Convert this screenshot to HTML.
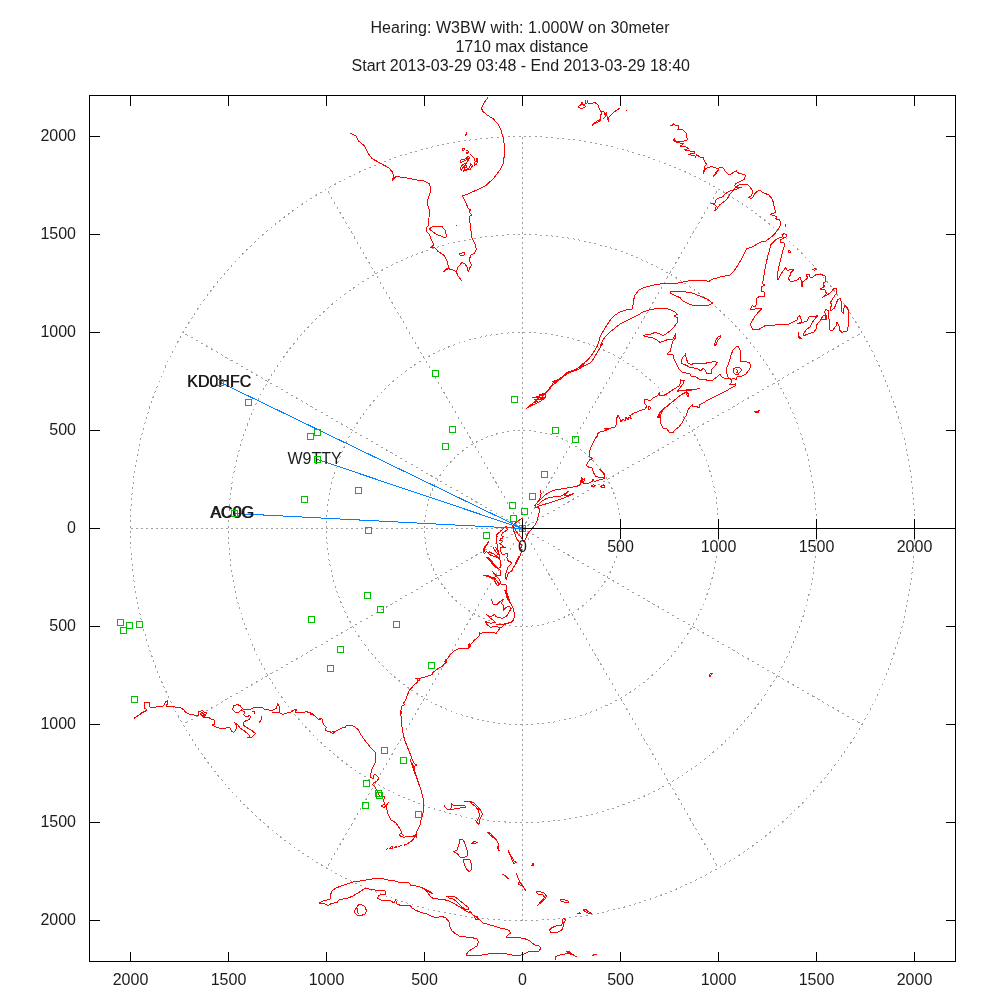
<!DOCTYPE html>
<html><head><meta charset="utf-8"><title>plot</title>
<style>
html,body{margin:0;padding:0;background:#fff;}
svg{display:block;will-change:transform;}
text{font-family:"Liberation Sans",sans-serif;font-size:16px;fill:#1c1c1c;}
.g{stroke:#a0a0a0;stroke-width:1;fill:none;stroke-dasharray:2 3;shape-rendering:crispEdges;}
.k{stroke:#000;stroke-width:1;fill:none;shape-rendering:crispEdges;}
.c{stroke:#ff0000;stroke-width:1;fill:none;stroke-linejoin:round;shape-rendering:crispEdges;}
.b{stroke:#0080ff;stroke-width:1;fill:none;shape-rendering:crispEdges;}
.p{stroke:#00c000;stroke-width:1;fill:none;shape-rendering:crispEdges;}
</style></head><body>
<svg width="1000" height="1000" viewBox="0 0 1000 1000">
<rect width="1000" height="1000" fill="#fff"/>

<text x="370.5" y="33" textLength="299" lengthAdjust="spacing">Hearing: W3BW with: 1.000W on 30meter</text>
<text x="455.5" y="52" textLength="133" lengthAdjust="spacing">1710 max distance</text>
<text x="351.5" y="71" textLength="338.5" lengthAdjust="spacing">Start 2013-03-29 03:48 - End 2013-03-29 18:40</text>
<circle class="g" style="stroke-dasharray:2 3.5" cx="522.5" cy="528.5" r="98"/>
<circle class="g" style="stroke-dasharray:2 3.5" cx="522.5" cy="528.5" r="196"/>
<circle class="g" style="stroke-dasharray:2 3.5" cx="522.5" cy="528.5" r="294"/>
<circle class="g" style="stroke-dasharray:2 3.5" cx="522.5" cy="528.5" r="392"/>
<path class="g" style="stroke-dasharray:2.31 3.46" d="M522.5 528.5L862.0 332.5"/>
<path class="g" style="stroke-dasharray:2.31 3.46" d="M522.5 528.5L718.5 189.0"/>
<path class="g" style="stroke-dasharray:2.00 3.00" d="M522.5 528.5L522.5 136.5"/>
<path class="g" style="stroke-dasharray:2.31 3.46" d="M522.5 528.5L326.5 189.0"/>
<path class="g" style="stroke-dasharray:2.31 3.46" d="M522.5 528.5L183.0 332.5"/>
<path class="g" style="stroke-dasharray:2.00 3.00" d="M522.5 528.5L130.5 528.5"/>
<path class="g" style="stroke-dasharray:2.31 3.46" d="M522.5 528.5L183.0 724.5"/>
<path class="g" style="stroke-dasharray:2.31 3.46" d="M522.5 528.5L326.5 868.0"/>
<path class="g" style="stroke-dasharray:2.00 3.00" d="M522.5 528.5L522.5 920.5"/>
<path class="g" style="stroke-dasharray:2.31 3.46" d="M522.5 528.5L718.5 868.0"/>
<path class="g" style="stroke-dasharray:2.31 3.46" d="M522.5 528.5L862.0 724.5"/>
<path class="c" d="M350.0 133.0L356.0 136.0L359.0 141.4L364.0 145.4L368.0 153.0L372.0 158.6L380.0 163.0L389.0 168.0L392.4 172.0L393.6 176.6L392.4 180.6L395.6 176.6L404.0 177.4L410.0 178.6L417.0 180.0L423.0 180.6L429.0 183.4L430.6 187.0L430.0 193.0L428.0 199.0L427.6 204.6L429.2 210.0L429.0 218.0L428.0 226.0L426.4 228.0L426.4 231.0L429.0 234.0L431.6 240.0L434.0 244.6L431.0 247.4L434.4 247.0L438.0 251.4L444.0 255.4L447.0 260.6L448.6 267.4L443.0 272.0L448.0 268.6L453.0 270.0L456.4 272.0L458.0 276.0L462.4 281.4M456.4 272.0L458.0 267.0L462.0 262.6L465.0 264.0L467.0 267.0L468.4 272.0L469.6 268.0L471.6 265.0L469.0 260.0L471.0 255.0L474.4 253.0L476.4 249.0L475.0 244.0L472.0 238.0L471.0 231.0L470.0 223.0L469.0 216.6L471.6 215.0L469.0 212.0L470.4 210.0L468.0 208.0L466.0 203.0L462.4 196.0L468.0 194.0L478.0 189.4L486.0 185.4L494.0 178.0L500.0 170.0L503.0 164.0L504.4 155.0L504.4 145.0L503.0 137.0L501.0 130.0L498.0 124.0L493.0 118.6L487.0 115.0L482.4 111.0L481.6 108.0L484.0 103.0L488.0 97.4M429.0 229.0L433.0 226.4L442.0 226.4L445.6 231.0L446.4 237.0L444.0 237.4L436.0 234.0ZM459.6 254.0L463.0 252.6L465.0 253.0L463.6 255.4L460.0 255.0ZM456 225.5h1M465.9 132.5L466.7 132.9L466.4 134.4L464.9 135.6M462.3 149.4L463.4 148.2L464.6 148.7L464.3 150.0L463.1 150.7ZM466.4 150.6L467.9 150.6L468.8 151.8L467.9 153.3L466.4 153.0L467.3 152.1M470.3 154.2L472.7 156.6L474.8 159.0L475.1 161.4L474.2 164.4L474.8 165.3L476.6 164.1L477.7 162.0L477.7 159.0L476.6 158.4L476.3 159.9L476.0 162.3M460.4 161.4L460.7 160.2L463.4 159.3L465.5 159.0L466.4 157.8L468.8 156.0L469.4 158.4L468.2 160.8L466.7 162.6L467.6 160.2L468.2 158.4L467.0 158.4L465.8 160.2L463.4 161.4L461.0 162.6ZM460.1 168.9L461.0 166.8L462.5 165.0L464.6 163.8L466.7 163.5L465.2 165.0L463.4 166.8L461.9 168.9L461.3 170.4ZM464.0 167.4L465.5 165.6L466.7 165.9L466.1 167.4L464.6 168.3ZM463.1 171.6L464.6 169.8L467.0 169.5L468.8 168.0L470.0 166.2L470.9 163.8L471.8 164.4L472.7 165.9L471.2 167.4L470.6 169.8L469.4 169.2L468.2 169.8L465.8 170.4L464.0 171.0ZM578.0 106.8L579.4 105.4L581.2 104.8L581.5 102.9L582.6 102.6L582.9 104.3L584.0 105.7L585.0 104.0L585.5 100.5L585.7 104.0L586.8 103.6L587.5 100.5L587.8 102.9L589.9 103.3L592.4 103.3L594.1 102.5L596.2 103.3L598.0 104.7L598.7 107.1L599.7 109.6L600.8 111.7L602.2 111.0L603.9 111.7L604.6 113.4L605.3 115.2L606.4 112.4L606.7 114.8L607.4 117.6L608.4 121.5L608.6 117.6L610.6 115.5L613.4 112.7L616.2 110.6L619.7 108.3M600.8 111.7L601.4 113.8L600.4 115.9L600.4 118.0L600.7 120.1L598.7 121.5L596.6 122.9L594.5 123.9L592.4 125.3L593.1 123.6L595.2 122.3L597.6 120.8L599.7 119.4M603.2 118.3L604.6 117.6L605.7 115.9L606.4 113.8M578.0 106.8L580.5 108.5L582.6 108.3L585.0 107.1L585.5 105.7M626 110.5h1M670.2 125.6L672.6 125.2L673.8 123.6L675.0 125.2L678.0 125.2L679.2 127.0L678.0 129.4L680.4 130.0L682.2 129.4L684.6 131.2L686.4 133.6L686.6 137.2L687.6 139.6L685.8 140.8L682.2 141.2L678.0 141.4L675.0 140.8L673.8 139.6L675.0 138.4L673.4 140.0L675.0 141.6L678.0 142.6L681.0 143.2L683.4 143.8L680.4 146.2L684.0 146.4L687.0 147.2L688.2 148.6L684.6 150.0L688.8 150.4L691.8 151.6L694.2 151.6L694.6 153.4L691.4 153.2L688.8 154.4L692.4 155.6L694.8 155.8L695.4 157.2L696.6 154.6L698.4 155.8L700.2 157.2L703.2 157.6L704.2 160.6L705.4 163.0L706.6 164.2L705.0 166.0L704.2 169.6L703.4 173.2L704.6 170.8L705.6 168.4L708.6 167.6L711.6 166.6L714.0 167.2L715.8 167.8L717.4 168.4L718.2 169.6L716.4 171.4L715.0 173.8L713.4 176.2L715.4 174.4L717.0 172.0L718.6 170.0L719.0 167.8L722.4 167.2L724.2 169.6L726.0 172.0L728.2 174.0L731.4 174.0L733.8 172.0L736.6 170.8L737.4 172.6L740.4 173.8L744.0 174.4L745.4 175.6L744.6 179.2L741.6 180.8L738.6 182.2L735.6 184.0L734.6 185.8L736.2 187.0L739.2 187.6L741.6 187.2L738.0 188.4L734.4 190.0L730.8 190.6L728.4 191.8L725.4 193.6L723.0 196.6L719.4 197.8L717.0 199.0L715.4 200.8L715.0 203.2L711.6 203.8L714.6 204.4L716.2 206.2L714.6 211.0L716.4 209.8L718.2 206.8L720.0 204.4L723.0 202.6L725.8 200.2L727.8 197.8L729.6 194.8L732.0 191.8L734.4 188.8L736.8 186.4L739.8 184.6L744.0 184.0L747.6 184.4L749.4 186.4L751.2 188.8L752.6 190.6L752.2 193.6L750.6 196.6L748.6 197.2L751.2 199.0L753.0 197.2L754.8 193.6L757.2 191.2L760.2 190.4M635.0 295.0L639.0 290.0L644.0 287.4L652.0 285.4L660.0 284.0L669.0 283.0L672.0 284.0L680.0 282.6L688.0 281.0L698.0 280.0L706.0 280.0L708.0 282.0L712.0 279.4L720.0 277.0L730.0 275.0L734.0 271.0L738.0 265.0L742.0 258.0L745.0 252.0L747.0 248.6L753.0 246.6L757.0 244.0L760.0 242.6M760.0 190.6L764.0 193.0L769.0 195.0L772.0 199.0L773.6 203.0L774.4 208.0L775.6 212.4L770.0 214.4L774.0 215.6L777.0 217.0L775.6 219.0L779.6 220.0L781.0 223.0L779.6 227.0L777.0 231.0L773.6 235.0L770.0 238.0L766.0 241.0L761.0 242.0L760.0 242.6M786.0 224.4L785.6 227.0M782.4 235.0L784.0 233.6L786.4 234.4L786.4 237.0L784.0 238.0L782.4 236.4ZM783.6 238.4L780.0 237.4L775.6 240.0L771.0 244.4L769.6 250.0L767.6 256.0L766.6 261.0L768.0 258.4L766.6 261.0L765.6 266.0L764.4 272.0L763.6 278.0L762.4 283.6L765.0 285.0L761.0 287.0L761.0 291.0L764.0 292.0L764.4 297.0L760.0 296.0L757.0 298.0L756.4 303.0L755.6 307.0L752.4 305.6L750.4 309.0L755.0 309.0L762.0 308.4L759.0 311.6L755.0 316.0L751.0 323.0L750.4 325.0L753.0 329.6L758.0 330.0L762.0 327.6L765.0 325.6L768.0 326.0L775.0 325.0L782.0 324.4L789.0 324.0L793.0 322.0L797.0 320.0L798.0 317.0L800.0 315.6L801.0 319.0L802.0 321.6L798.0 323.6L803.0 322.4L807.0 321.0L809.0 317.0L814.0 316.4L817.6 315.6L815.0 319.0L812.0 323.0L810.0 327.0L806.0 330.0L803.6 334.0L804.0 335.6L809.0 333.6L814.0 332.0L816.0 329.0L816.4 325.0L820.0 321.0L822.4 319.0L826.0 320.0L826.4 316.0L824.4 312.0L826.0 309.6L829.0 311.0L828.0 317.0L829.6 320.0L830.0 326.0L829.6 330.0L833.0 330.0L836.0 326.0L837.0 322.0L839.0 326.0L839.6 330.0L842.0 332.4L847.0 331.0L848.4 326.0L848.0 319.0L849.0 313.0L847.6 308.0L845.0 305.6L843.6 309.0L844.0 314.0L842.0 312.0L841.0 307.0L841.6 302.0L840.0 298.4L837.6 300.0L836.0 304.0L834.4 308.0L831.0 311.0L830.4 308.0L832.0 304.0L830.0 303.0L832.0 300.0L834.4 296.0L836.6 293.0L836.0 288.0L833.6 289.0L831.0 292.0L828.0 294.4L825.0 296.0L822.4 297.6L826.4 293.6L825.0 290.0L822.0 289.6L820.0 289.0L824.4 286.4L823.0 283.0L826.0 281.6L825.0 276.0L821.0 274.4L817.0 274.0L814.0 276.0L812.0 278.0L809.6 277.0L809.0 274.0L806.0 275.0L808.0 278.0L805.0 280.0L802.4 282.0L802.0 287.0L801.0 280.0L800.0 277.0L798.0 279.6L794.0 281.0L790.0 281.0L788.0 278.0L790.0 275.6L791.0 272.4L794.0 269.6L790.0 269.0L788.0 271.0L785.6 268.0L783.0 271.0L780.0 276.0L778.0 280.0L777.6 274.0L778.4 269.0L779.6 264.0L781.0 258.0L782.4 252.0L784.0 247.0L784.4 243.0L781.0 242.4L780.4 240.0L783.6 238.4M788.0 251.0L789.6 250.4L790.4 252.0L789.0 253.2ZM812.0 270.0L815.0 268.4L816.4 269.6L814.0 270.4M798.0 332.4L799.0 338.0L802.0 339.0L798.4 336.0ZM820.0 321.0L823.0 316.0L825.0 315.0L825.6 319.0M635.0 295.0L633.6 300.0L633.0 305.0L632.0 309.0L626.0 310.0L620.0 312.0L615.0 315.0L611.0 319.0L607.0 325.0L604.0 330.0L601.0 335.0L600.0 337.0M600.0 347.0L602.0 342.0L605.0 337.0L610.0 332.0L615.0 328.0L620.0 324.0L626.0 321.0L632.0 318.0L638.0 315.0L643.0 312.0L650.0 309.6L658.0 308.4L666.0 308.4L671.0 310.0L675.0 312.0L677.6 314.4L674.4 316.0L677.6 318.0L677.0 323.0L674.0 327.0L670.0 331.0L666.0 334.0L663.0 335.6L659.0 333.6L655.0 332.4L650.0 334.4L645.6 334.4L643.6 336.0L648.0 337.0L653.0 338.0L657.0 340.0L660.0 342.4L664.0 341.0L669.0 339.0L673.0 339.0L674.4 336.0L676.0 333.6L675.6 338.0L672.4 341.6L671.6 346.0L670.4 351.0L667.0 354.0L673.0 355.0L674.4 360.0L677.0 365.0L679.0 369.0L682.0 372.0L686.0 373.0L690.0 373.6L691.0 376.0L696.0 377.0L699.0 379.0L704.0 379.0L709.0 381.0L713.0 380.0L717.0 377.0L720.0 374.4L722.0 377.0L725.0 378.4L728.0 378.0L731.0 379.0L732.0 382.0L729.6 384.4L733.0 385.0L735.6 384.0L735.0 386.0L731.0 388.0L726.0 391.0L720.0 394.0L714.0 397.0L708.0 400.0L703.0 403.0L700.0 404.4L699.0 408.0L696.0 406.0L693.0 407.0L692.4 405.0L690.0 407.0L688.0 410.0L686.4 415.0L684.0 419.0L682.0 423.0L679.0 427.0L675.0 430.0L673.0 432.4L669.0 432.0L667.0 429.0L663.0 428.0L661.0 424.0L660.0 419.0L661.0 414.0L663.0 410.0L666.0 407.0L669.0 405.0L664.0 408.0L660.0 412.0L657.6 418.0L659.6 414.0L662.0 410.0L667.0 406.0L671.0 403.0L675.0 399.6L679.0 396.4L683.0 393.6L686.0 392.4L688.0 397.0L689.0 395.0L686.4 391.0L692.0 390.0L700.0 388.4L694.0 389.6L686.0 390.0L680.0 390.6L677.0 391.6L680.0 388.0L683.0 384.0L684.4 380.4L682.0 381.0L680.0 379.0L681.0 382.0L679.0 386.0L675.0 388.4L670.0 391.6L666.0 394.4L662.0 396.0L659.0 395.0L660.0 392.4L657.0 396.0L653.0 398.0L650.0 401.0L647.0 399.6L644.0 400.0L645.0 404.0L647.0 406.0L645.0 409.0L639.0 411.0L633.0 413.6L630.0 415.6L631.6 419.0L629.0 417.0L628.0 420.0L626.0 417.0L625.0 421.0L623.0 419.0L621.0 422.0L619.6 418.0L618.0 415.0L616.4 419.0L617.0 423.0L615.0 427.0L611.0 428.0L607.0 429.0L604.0 431.0L600.0 432.0M648.0 406.6L650.0 406.6L650.4 409.0L648.4 409.6ZM670.0 292.0L676.0 291.0L684.0 291.6L692.0 293.0L700.0 296.0L708.0 299.6L712.4 303.0L709.0 305.0L702.0 306.0L694.0 305.6L688.0 303.6L683.0 301.0L680.0 297.6L675.0 295.6L671.0 293.6ZM714.4 345.0L715.6 341.0L718.0 337.0L721.0 335.6L720.0 338.0L717.6 340.4L716.4 344.4L714.4 345.6ZM681.0 363.0L682.4 358.0L685.6 354.0L686.4 359.0L688.0 363.0L691.0 364.4L694.0 363.6L698.0 364.0L704.0 363.6L709.0 362.4L715.0 361.6L717.6 362.4L715.0 366.0L712.0 369.0L711.0 373.6L707.0 374.0L705.0 370.0L703.0 368.4L701.0 371.0L698.0 369.0L694.0 368.0L690.0 367.6L687.0 365.6L683.0 364.0ZM738.0 346.4L740.0 350.0L741.0 356.0L740.0 362.0L744.0 361.6L749.0 362.4L751.0 366.0L749.0 370.0L746.0 374.0L742.0 376.0L737.0 377.0L736.0 380.0L734.0 378.0L731.0 379.6L728.0 377.0L726.4 372.0L727.0 367.0L729.6 361.0L731.0 355.0L733.0 350.0L736.0 347.0ZM733.0 369.0L736.0 367.6L740.0 368.0L741.6 370.0L739.6 372.4L738.0 374.4L735.0 374.0L733.0 371.6ZM736.0 369.0L738.0 371.0L736.6 373.0M754.0 411.0L757.0 412.0L760.0 410.0L758.0 412.4L755.0 412.0ZM600.0 337.0L598.9 341.6L597.6 345.6L595.2 349.6L592.8 353.6L590.4 356.8L587.7 360.0L584.8 362.4L581.6 364.8L578.4 368.0L575.2 369.6L572.0 370.7L568.8 371.7L565.6 373.6L562.4 376.5L559.2 379.2L556.0 380.8L553.6 381.9L552.0 384.8L549.6 388.0L547.2 391.2L544.8 393.6L541.6 395.2L538.4 396.8L532.0 397.3L538.4 397.9L536.0 400.5L532.8 403.2L529.6 405.9L526.4 408.5M600.0 347.0L602.4 344.0L600.0 348.0L597.6 352.0L595.2 356.0L592.8 360.0L589.6 363.2L586.4 364.8L583.2 366.4L580.0 368.5L576.8 370.1L572.8 371.2L568.8 372.8L565.6 374.9L562.4 377.6L559.2 380.0L556.0 382.9L552.8 384.8L550.4 388.0L548.0 390.9L545.6 393.6L545.6 396.8L543.2 399.2L540.0 401.6L536.8 403.2L532.8 404.8L529.6 406.9L526.4 408.5M580.0 366.4L582.4 364.0L584.5 362.7L583.5 365.3L580.8 367.2ZM552.8 381.9L555.2 380.3L557.3 381.3L555.2 382.9ZM540.0 394.4L544.0 393.6L545.6 396.0L544.0 398.9L540.8 398.4L539.2 396.3ZM540.8 395.2L544.0 397.6L541.6 397.6L543.2 395.2M534.4 400.0L539.2 399.2L542.4 399.5M533.6 403.2L538.4 400.8M600.0 432.0L597.9 433.6L597.3 436.0L595.2 438.4L593.6 441.6L592.0 444.8L590.4 448.8L589.3 452.0L589.3 455.5L590.4 457.6L592.5 458.4L589.6 460.0L587.2 463.2L586.4 465.6L588.8 467.2L592.0 468.0L593.1 471.2L594.4 474.4L596.0 476.8L600.0 477.3L603.7 477.9L604.8 476.0L604.0 472.8L601.6 470.4L599.2 469.3L602.4 472.0L604.3 475.2L604.8 478.4L600.8 479.5L596.8 480.8L594.4 481.6L592.8 479.2L592.0 481.6L588.8 483.2L585.6 483.7L583.2 484.0L584.0 480.8L584.8 478.4L583.2 480.0L581.9 477.6L580.8 480.8L580.0 484.8L576.8 486.4L572.0 487.2L567.2 488.0L562.4 488.8L556.0 489.6L551.2 491.2L547.2 493.6L544.0 496.0L541.9 498.4L540.0 500.0M580.8 483.2L582.4 479.2L583.2 483.2L581.6 481.6M591.2 485.9L593.6 484.8L595.7 485.3L593.6 486.9L591.5 486.9ZM600.8 486.4L603.2 484.8L604.8 486.4L603.7 488.0L601.6 487.5ZM657.1 417.6L658.7 415.5L660.0 416.0L659.2 418.1ZM604.8 428.8L607.2 428.0L608.8 429.3L606.4 430.4ZM540.0 500.0L537.6 502.4L535.7 504.3L534.7 505.9L536.0 507.5L538.4 507.2M540.0 490.4L541.1 493.6L540.5 496.8L538.9 500.0L537.3 502.4M536.0 507.5L540.0 505.6L545.6 504.0L552.0 502.1L558.4 500.0L564.0 497.9L568.8 496.0L573.6 493.6L569.6 494.7L566.4 496.0L564.0 495.2L566.4 493.1L568.0 491.5L564.8 493.6L562.4 495.7L559.2 496.3L555.2 496.8L550.4 497.3L545.6 498.9L542.4 500.8L540.0 503.2L536.8 505.3M538.4 507.2L539.5 509.6L538.9 513.6L537.9 517.6L536.8 521.6L535.2 524.8L532.8 527.7L530.4 530.4L528.0 533.6L526.4 536.8L524.8 540.5L524.0 541.6L522.4 539.2L520.8 536.8L518.4 534.4L516.0 531.2L514.4 528.0L512.8 526.4L515.2 523.2L518.4 520.8L520.8 519.2L522.4 518.1M512.8 526.4L512.8 527.6L513.6 530.4L514.8 533.6L516.0 536.8L517.2 539.2L518.8 541.6L520.4 544.0L522.0 545.6L521.2 547.2L520.0 548.0L521.2 549.6L521.2 552.0L520.4 555.2L519.2 557.6L518.0 560.0L516.4 562.8L514.8 565.2L513.6 567.2L512.4 569.6L511.6 571.2L510.0 572.0L508.4 573.2L507.6 575.2L507.0 577.2L506.8 579.2L506.2 579.6L505.2 577.6L505.6 575.2L506.0 572.8L506.8 570.4L507.6 568.0L508.8 566.0L510.4 564.8L511.6 563.2L510.0 561.6L508.2 561.2L507.6 559.2L506.8 557.6L507.6 555.2L507.6 553.6L505.2 554.0L502.8 554.4L501.2 553.2L500.8 551.2L500.4 548.8L500.8 547.6L505.6 547.6L503.2 546.8L502.0 544.8L500.4 544.8L499.6 543.6L501.6 542.8L502.4 541.2L500.8 540.0L499.6 540.4L500.8 538.8L502.8 538.0L503.2 536.4L501.6 536.0L502.0 534.4L502.8 532.8L505.2 531.2L507.2 530.0L506.8 528.4L505.6 527.6L505.2 526.4L506.8 526.4M505.2 526.8L503.6 528.4L502.0 530.0L500.4 530.4L500.0 532.0L498.4 532.8L497.6 534.4L496.0 534.0L497.2 536.0L496.4 537.6L496.4 540.0L496.8 542.4L497.2 544.8L497.6 547.2L498.0 549.6L498.4 552.0L499.2 554.4L500.0 556.8L499.6 558.8L498.0 557.6L495.6 555.2L493.2 553.6L490.8 552.8L489.6 552.0L488.0 552.4L486.4 551.6L485.6 552.8L484.0 553.2L483.2 552.0L483.4 549.6L484.4 546.8L486.0 544.8L487.6 543.2L488.8 541.2L488.0 543.2L486.4 545.6L484.8 547.6L484.2 550.4L485.2 552.0M486.4 551.6L488.4 553.6L490.8 555.2L494.0 556.4L497.2 557.6L499.6 559.2L500.4 561.6L500.6 564.4L500.4 567.2L498.8 568.4L496.8 568.0L494.8 566.4L492.8 564.4L490.8 562.0L489.2 559.6L487.6 558.0L486.0 557.2L488.0 557.6L490.0 559.2L492.0 561.6L494.0 564.0L496.0 566.4L498.0 568.4L500.0 570.0L500.2 572.8L500.4 575.2L498.4 576.0L496.4 575.2L494.4 573.2L492.4 571.2L494.0 573.6L495.6 576.0L497.6 577.6L499.2 579.2L500.4 581.6L499.6 584.0L498.0 585.6L496.4 584.4L495.2 582.0L494.0 579.2L492.8 577.6L490.8 577.2L488.8 576.0L486.0 575.2L483.2 575.2L486.0 576.0L489.2 576.8L491.6 578.4L494.0 577.6L495.6 579.2L497.2 581.6L498.8 583.6L500.8 584.0L503.2 584.0L505.6 584.2L506.4 586.0L506.4 588.8L506.0 591.2L506.4 594.4L507.2 596.8L508.0 599.2L508.4 600.0M493.2 547.2L494.4 549.6L496.0 552.0L497.6 553.6L498.4 555.2M495.6 547.2L496.8 549.6L498.0 552.0M518.8 556.0L517.6 559.2L516.0 562.4L517.2 560.0M505.2 590.4L506.0 593.6L506.8 596.8L507.6 600.0M505.9 588.8L507.2 593.6L508.8 598.4L510.4 603.2L512.8 607.2L513.9 611.2L514.4 616.0L513.6 620.0L511.2 622.4L508.0 623.2L504.0 624.0L500.8 624.8L496.0 624.8M504.8 590.4L506.4 595.2L508.5 600.0L510.4 604.0M491.5 599.2L492.8 604.0L496.8 604.8L500.0 601.6L503.2 599.2L501.6 603.2L504.0 606.4L503.2 610.4L506.4 607.2L508.8 606.4L511.2 608.0L509.6 611.2L508.0 614.4L505.6 616.8L502.4 618.4L499.2 617.6L496.0 616.8L494.4 614.4L492.0 616.0L488.8 616.0L486.4 614.4L489.6 617.6L492.8 620.0L495.2 622.4L491.2 623.2L488.0 622.4L485.6 621.6L487.2 624.8L490.4 627.2L495.2 626.4L500.5 627.5L498.4 630.4L496.0 633.6L493.6 632.0L489.6 632.0L484.8 632.0L480.8 633.6L479.2 632.0L479.7 634.9L477.6 637.6L474.4 640.0M500.6 628.0L505.0 624.4L510.0 622.4L513.6 620.6M474.4 640.0L472.0 643.0L469.6 645.0L469.0 648.0L466.0 649.0L462.0 648.0L458.0 649.0L454.0 651.0L451.0 654.0L448.0 658.0L446.0 660.0L445.0 663.0L443.0 665.6L440.0 667.6L436.0 670.0L433.0 672.4L432.4 674.4L428.0 676.0L423.0 677.6L419.0 678.4L417.0 680.0L418.0 682.0L415.0 684.0L412.4 687.0L409.6 690.0L408.0 693.6L406.4 698.0L405.0 701.0L403.6 703.0L404.4 705.0L401.6 706.4L401.0 710.0L400.6 714.0L401.4 718.0L401.6 724.0L402.4 730.0L403.6 736.0L405.0 741.0L407.0 746.0L409.0 751.0L411.0 756.0L412.4 760.0L414.0 763.0L416.4 765.0L414.0 767.0L415.0 772.0L417.0 778.0L419.0 784.0L421.0 790.0L422.4 795.0L423.6 800.0L424.0 806.0L423.6 811.0L422.4 816.0L421.0 820.0M468.4 645.0L470.0 643.6L470.4 646.4L469.0 647.6ZM444.8 661.0L446.0 659.6L446.6 662.0L445.4 663.2ZM415.6 679.0L418.0 678.0L420.0 680.0L417.6 681.0M401.0 711.0L402.0 712.0L401.4 714.4M410.0 759.0L412.4 766.0L414.4 772.0L417.0 779.0L419.6 786.0L421.6 792.0M412.4 763.0L414.0 769.0L416.0 775.0M360.0 733.0L363.0 738.0L367.0 743.0L371.0 748.0L375.0 752.0L375.6 758.0L375.0 763.0L372.4 768.0L371.0 773.0L370.4 777.0L373.0 779.0L374.4 774.0L377.0 776.0L379.0 778.0L377.0 781.0L374.0 783.0L372.4 784.4L375.0 787.0L376.4 790.0L378.4 794.0L381.0 797.0L385.0 796.4L383.6 800.0L384.4 804.0L381.6 806.0L384.0 808.0L387.0 804.0L389.0 802.0L386.0 806.0L387.0 810.0L388.0 814.0L390.0 818.0L391.0 820.0M444.0 805.6L447.0 809.0L449.0 810.0L452.0 807.0L451.6 803.6L454.0 806.0L460.0 805.0L465.0 806.0L465.6 807.6L460.0 808.0L454.0 809.0L450.0 810.0M464.0 802.0L469.0 801.0L474.0 803.0L478.0 807.0L481.0 811.0L482.4 814.0L481.0 817.0L479.6 820.0M470.0 802.4L475.0 806.0L478.4 810.0L479.6 815.0L478.4 819.0M134.0 718.4L139.0 715.0L144.0 712.0L147.0 710.0L144.4 708.0L144.4 703.0L147.0 702.4L149.6 703.0L149.0 706.0L151.0 708.0L153.0 707.6L158.0 706.6L163.0 706.4L165.6 702.0L167.6 700.6L168.0 703.0L166.0 706.0L170.0 706.6L175.0 707.0L180.0 707.6L183.6 709.6L185.6 712.4L189.0 714.0L194.0 715.0L199.0 715.0L198.4 712.0L202.0 710.4L204.0 712.0L206.4 713.0L205.0 716.0L203.6 718.0L208.0 717.0L211.0 719.0L214.0 720.0L215.0 724.0L212.4 725.0L216.0 727.0L220.0 728.4L223.0 729.0L227.0 727.6L230.0 728.0L231.6 731.6L234.0 732.4L236.0 729.0L236.4 725.0L234.4 722.4L238.0 725.0L240.0 728.0L243.0 730.0L247.0 733.0L250.0 736.0L248.0 737.6L252.0 737.0L255.6 733.6L252.4 731.0L248.0 728.4L244.0 725.6L243.0 723.0L245.6 721.0L249.0 719.6L251.0 717.0L249.6 715.6L246.0 717.0L243.6 714.4L245.0 712.0L241.6 710.0L239.0 712.0L235.0 712.0L232.4 709.6L233.6 706.0L237.0 704.4L240.0 705.6L243.0 709.0L246.0 710.0L250.0 709.6L253.6 707.6L258.0 708.0L262.0 707.0L265.0 709.6L269.0 710.0L273.0 710.0L276.4 708.0L278.0 703.6L279.6 708.0L280.0 712.0L272.0 712.4L280.0 713.0L283.0 714.4L287.0 713.0L291.0 712.0L294.0 710.0L297.0 709.0L295.0 712.0L299.0 713.0L303.0 712.4L307.0 711.6L311.0 713.0L315.0 716.0L318.0 719.0L320.0 719.6M261.0 715.6L261.6 719.0L259.0 723.0M252.0 712.0L255.0 711.6L254.0 714.0M140.0 713.6L146.0 710.4M200.0 713.0L203.0 717.0L204.4 715.0L201.6 712.0M320.0 719.5L321.9 718.4L322.4 721.9L324.0 724.8L326.4 727.2L325.1 729.9L328.0 731.5L331.2 732.0L332.8 734.1L335.2 731.2L337.6 730.4L340.0 728.8L343.2 727.7L345.6 727.7L345.9 726.1L348.8 725.3L352.0 725.6L355.2 727.2L358.4 729.6L360.0 733.0M319.2 718.4L321.6 718.1L322.9 720.0M307.2 712.0L309.6 712.8L312.0 713.9L310.4 714.9M330.4 732.5L334.4 731.5L336.8 730.9M391.0 820.0L393.6 821.1L396.0 823.2L398.4 826.4L400.3 829.6L401.9 832.8L399.7 834.4L400.3 836.5L404.0 837.1L408.0 836.8L412.8 836.5L415.2 834.9L416.8 837.6L415.7 834.4L417.3 830.4L419.2 826.4L420.8 823.2L421.0 820.0M401.3 833.3L404.0 836.0M413.6 838.4L415.2 836.0L416.8 834.4M386.0 849.6L388.4 848.6M389.6 848.4L392.0 846.0L393.2 848.0ZM394.4 847.6L396.0 846.0L397.0 847.6ZM398.4 846.6L402.4 845.4M404.0 845.2L407.0 844.0L409.6 842.4M410.4 842.0L413.0 839.6L415.0 837.0L416.4 835.0M319.0 903.0L323.0 901.0L327.0 900.0L330.0 899.0L330.4 895.0L332.0 891.0L336.0 888.0L342.0 885.6L348.0 883.6L354.0 881.6L360.0 881.0L366.0 880.0L372.0 879.0L378.0 878.4L384.0 879.0L389.0 880.4L394.0 880.0L395.6 881.6L400.0 882.4L404.0 882.4L409.0 883.0L411.0 885.6L416.0 886.0L420.0 887.0L425.0 889.0L429.0 892.0L433.0 893.6L428.0 890.4L424.0 889.0L428.0 893.0L430.0 896.0L433.0 898.4L438.0 899.0L444.0 899.6L449.0 901.0L454.0 903.6L459.0 906.4L463.0 909.0L467.0 911.6L471.0 913.0L474.0 915.6L477.6 918.0L480.0 920.0L483.0 923.0L488.0 924.4L494.0 926.0L500.0 928.0M319.0 903.0L324.0 903.6L328.0 905.6L331.0 903.6L337.0 902.4L339.0 900.0L343.0 899.0L348.0 898.0L353.0 896.0L357.0 893.6L361.0 891.0L365.0 888.4L369.0 889.0L375.0 890.0L380.0 890.4L385.0 891.0L386.0 894.0L382.4 894.4L378.4 895.6L377.6 898.0L381.0 900.0L386.0 900.0L391.0 901.0L394.0 903.0L395.6 900.0L397.0 904.0L401.0 905.6L406.0 905.0L410.0 905.0L412.0 908.0L416.0 910.4L421.0 912.4L427.0 914.0L432.0 916.4L436.0 917.6L442.0 916.4L446.0 918.0L449.0 922.0L450.0 927.0L452.0 931.0L456.0 934.0L460.0 936.4L466.0 937.0L472.0 937.6L477.0 939.0L478.4 942.0L477.0 946.0L473.0 948.4L469.0 951.0L466.0 955.0L474.0 955.6L482.0 955.0L490.0 953.6L500.0 953.0M354.4 911.0L357.0 907.0L359.0 904.4L362.4 905.0L365.0 907.0L366.6 911.0L365.0 914.0L361.0 915.6L357.0 915.0L355.0 913.0ZM358.0 908.0L357.0 912.0L359.0 914.0M447.0 896.4L452.0 896.0L455.0 897.0L458.0 899.0L461.0 901.6L464.0 904.0L467.0 906.4L469.0 908.0L468.0 910.0L465.0 909.0L462.0 907.0L459.0 904.0L456.0 901.0L453.0 899.0L449.0 898.0ZM469.0 911.0L472.0 912.4L471.0 914.0M474.0 917.0L477.0 916.4L479.0 919.0L476.4 920.0ZM453.6 851.6L457.0 850.0L459.0 844.0L459.6 839.0L462.0 839.0L464.4 842.0L466.0 847.0L467.6 852.0L467.0 856.0L463.0 858.0L460.0 857.0L458.0 854.4ZM463.0 860.0L466.0 859.0L470.0 860.0L471.6 865.0L471.0 870.0L469.0 871.6L466.4 869.0L464.4 864.4ZM471.0 843.6L474.0 841.6L477.6 842.4L474.0 843.6ZM475.6 820.0L477.0 823.0L479.0 824.4L480.0 821.0M487.6 832.0L490.0 835.0L494.0 838.0L497.0 841.0L499.0 845.0L498.0 850.0L500.0 851.0M489.0 832.4L493.0 836.0L496.4 839.6L498.4 844.0L497.6 849.0M500.0 928.0L505.0 929.0L509.6 930.4L510.4 933.0L508.0 935.0L506.4 937.0L512.0 937.6L518.0 937.6L524.0 938.4L529.0 940.4L532.0 943.0L535.0 945.0L539.0 946.0L541.0 948.4L539.0 951.0L534.0 951.6L529.0 951.6L525.0 953.6L521.0 955.0L517.0 956.0L512.0 955.0L507.0 954.0L500.0 953.0M479.6 820.0L479.6 824.0L476.4 822.0L478.0 819.0M508.0 850.4L510.0 854.0L512.4 858.0L514.4 861.6L516.4 862.4L513.6 863.6L512.4 861.0L511.0 857.0L509.0 853.0ZM531.6 866.0L533.0 863.0L533.6 865.0ZM501.6 873.6L505.0 875.6L507.6 878.0L509.0 879.0M516.4 873.6L518.0 878.0L520.0 882.0L522.4 885.6L525.0 889.0L525.6 890.4L523.6 887.0L521.0 885.6L518.4 884.0L519.6 881.0L517.6 877.0ZM536.4 892.0L540.0 891.6L544.0 893.0L546.4 896.0L545.0 899.0L542.4 901.6L539.6 903.6L537.6 905.6L540.0 902.4L543.0 899.6L544.4 897.0L542.4 894.4L539.0 895.0L537.0 893.0ZM560.0 900.0L563.0 899.6L567.0 900.4L569.0 902.0L566.0 902.4L562.0 901.6ZM577.0 913.6L579.6 913.0L581.0 914.0M583.0 910.0L586.0 909.6L588.0 911.6L591.0 913.0L592.0 914.0L589.0 913.6L586.4 912.4L584.4 911.0ZM549.6 930.0L552.0 927.6L556.0 926.0L561.0 925.6L563.0 923.0L562.0 920.0L563.6 918.4L565.6 920.0L564.0 922.4L563.6 926.0L562.0 929.6L558.4 932.0L554.0 933.0L551.0 932.4ZM555.0 959.6L556.0 956.4L560.0 955.0L565.0 954.0L569.0 953.6L573.0 955.0L577.0 957.0L572.0 954.0L569.6 951.6L566.0 951.0L568.0 952.4L571.0 953.6M592.4 955.6L594.4 954.4L597.0 954.4M709.0 676.0L710.0 674.0L712.0 673.0L713.0 673.0L711.0 675.0L710.0 677.0Z"/>
<path class="b" d="M522.5 528.5L220.5 382.5"/>
<path class="b" d="M522.5 528.5L317.5 459.5"/>
<path class="b" d="M522.5 528.5L234.5 513.5"/>
<text x="219" y="387" text-anchor="middle">KD0HFC</text>
<text x="219.5" y="387" text-anchor="middle">KD0HFC</text>
<text x="314.5" y="463.5" text-anchor="middle">W9TTY</text>
<text x="231.7" y="517.5" text-anchor="middle">AC0G</text>
<text x="232.7" y="517.5" text-anchor="middle">AC0G</text>
<rect class="p" x="217.5" y="379.5" width="6" height="6"/>
<rect class="p" x="245.5" y="399.5" width="6" height="6"/>
<rect class="p" x="314.5" y="429.5" width="6" height="6"/>
<rect class="p" x="307.5" y="433.5" width="6" height="6"/>
<rect class="p" x="314.5" y="456.5" width="6" height="6"/>
<rect class="p" x="432.5" y="370.5" width="6" height="6"/>
<rect class="p" x="449.5" y="426.5" width="6" height="6"/>
<rect class="p" x="442.5" y="443.5" width="6" height="6"/>
<rect class="p" x="355.5" y="487.5" width="6" height="6"/>
<rect class="p" x="301.5" y="496.5" width="6" height="6"/>
<rect class="p" x="511.5" y="396.5" width="6" height="6"/>
<rect class="p" x="552.5" y="427.5" width="6" height="6"/>
<rect class="p" x="572.5" y="436.5" width="6" height="6"/>
<rect class="p" x="541.5" y="471.5" width="6" height="6"/>
<rect class="p" x="529.5" y="493.5" width="6" height="6"/>
<rect class="p" x="509.5" y="502.5" width="6" height="6"/>
<rect class="p" x="521.5" y="508.5" width="6" height="6"/>
<rect class="p" x="510.5" y="515.5" width="6" height="6"/>
<rect class="p" x="519.5" y="525.5" width="6" height="6"/>
<rect class="p" x="483.5" y="532.5" width="6" height="6"/>
<rect class="p" x="231.5" y="510.5" width="6" height="6"/>
<rect class="p" x="365.5" y="527.5" width="6" height="6"/>
<rect class="p" x="364.5" y="592.5" width="6" height="6"/>
<rect class="p" x="377.5" y="606.5" width="6" height="6"/>
<rect class="p" x="308.5" y="616.5" width="6" height="6"/>
<rect class="p" x="393.5" y="621.5" width="6" height="6"/>
<rect class="p" x="337.5" y="646.5" width="6" height="6"/>
<rect class="p" x="327.5" y="665.5" width="6" height="6"/>
<rect class="p" x="428.5" y="662.5" width="6" height="6"/>
<rect class="p" x="117.5" y="619.5" width="6" height="6"/>
<rect class="p" x="120.5" y="627.5" width="6" height="6"/>
<rect class="p" x="126.5" y="622.5" width="6" height="6"/>
<rect class="p" x="136.5" y="621.5" width="6" height="6"/>
<rect class="p" x="131.5" y="696.5" width="6" height="6"/>
<rect class="p" x="381.5" y="747.5" width="6" height="6"/>
<rect class="p" x="400.5" y="757.5" width="6" height="6"/>
<rect class="p" x="363.5" y="780.5" width="6" height="6"/>
<rect class="p" x="375.5" y="790.5" width="6" height="6"/>
<rect class="p" x="376.5" y="792.5" width="6" height="6"/>
<rect class="p" x="362.5" y="802.5" width="6" height="6"/>
<rect class="p" x="415.5" y="811.5" width="6" height="6"/>
<rect class="k" x="89.5" y="95.5" width="866.0" height="866.0"/>
<path class="k" d="M130.5 95.5v10M130.5 961.5v-10M89.5 920.5h10M955.5 920.5h-10"/>
<text x="130.5" y="985" text-anchor="middle">2000</text>
<text x="76" y="925.0" text-anchor="end">2000</text>
<path class="k" d="M228.5 95.5v10M228.5 961.5v-10M89.5 822.5h10M955.5 822.5h-10"/>
<text x="228.5" y="985" text-anchor="middle">1500</text>
<text x="76" y="827.0" text-anchor="end">1500</text>
<path class="k" d="M326.5 95.5v10M326.5 961.5v-10M89.5 724.5h10M955.5 724.5h-10"/>
<text x="326.5" y="985" text-anchor="middle">1000</text>
<text x="76" y="729.0" text-anchor="end">1000</text>
<path class="k" d="M424.5 95.5v10M424.5 961.5v-10M89.5 626.5h10M955.5 626.5h-10"/>
<text x="424.5" y="985" text-anchor="middle">500</text>
<text x="76" y="631.0" text-anchor="end">500</text>
<path class="k" d="M522.5 95.5v10M522.5 961.5v-10M89.5 528.5h10M955.5 528.5h-10"/>
<text x="522.5" y="985" text-anchor="middle">0</text>
<text x="76" y="533.0" text-anchor="end">0</text>
<path class="k" d="M620.5 95.5v10M620.5 961.5v-10M89.5 430.5h10M955.5 430.5h-10"/>
<text x="620.5" y="985" text-anchor="middle">500</text>
<text x="76" y="435.0" text-anchor="end">500</text>
<path class="k" d="M718.5 95.5v10M718.5 961.5v-10M89.5 332.5h10M955.5 332.5h-10"/>
<text x="718.5" y="985" text-anchor="middle">1000</text>
<text x="76" y="337.0" text-anchor="end">1000</text>
<path class="k" d="M816.5 95.5v10M816.5 961.5v-10M89.5 234.5h10M955.5 234.5h-10"/>
<text x="816.5" y="985" text-anchor="middle">1500</text>
<text x="76" y="239.0" text-anchor="end">1500</text>
<path class="k" d="M914.5 95.5v10M914.5 961.5v-10M89.5 136.5h10M955.5 136.5h-10"/>
<text x="914.5" y="985" text-anchor="middle">2000</text>
<text x="76" y="141.0" text-anchor="end">2000</text>
<path class="k" d="M522.5 528.5H955.5"/>
<path class="k" d="M522.5 518.5V538.5"/>
<text x="522.5" y="552" text-anchor="middle">0</text>
<path class="k" d="M620.5 518.5V538.5"/>
<text x="620.5" y="552" text-anchor="middle">500</text>
<path class="k" d="M718.5 518.5V538.5"/>
<text x="718.5" y="552" text-anchor="middle">1000</text>
<path class="k" d="M816.5 518.5V538.5"/>
<text x="816.5" y="552" text-anchor="middle">1500</text>
<path class="k" d="M914.5 518.5V538.5"/>
<text x="914.5" y="552" text-anchor="middle">2000</text>
</svg></body></html>
